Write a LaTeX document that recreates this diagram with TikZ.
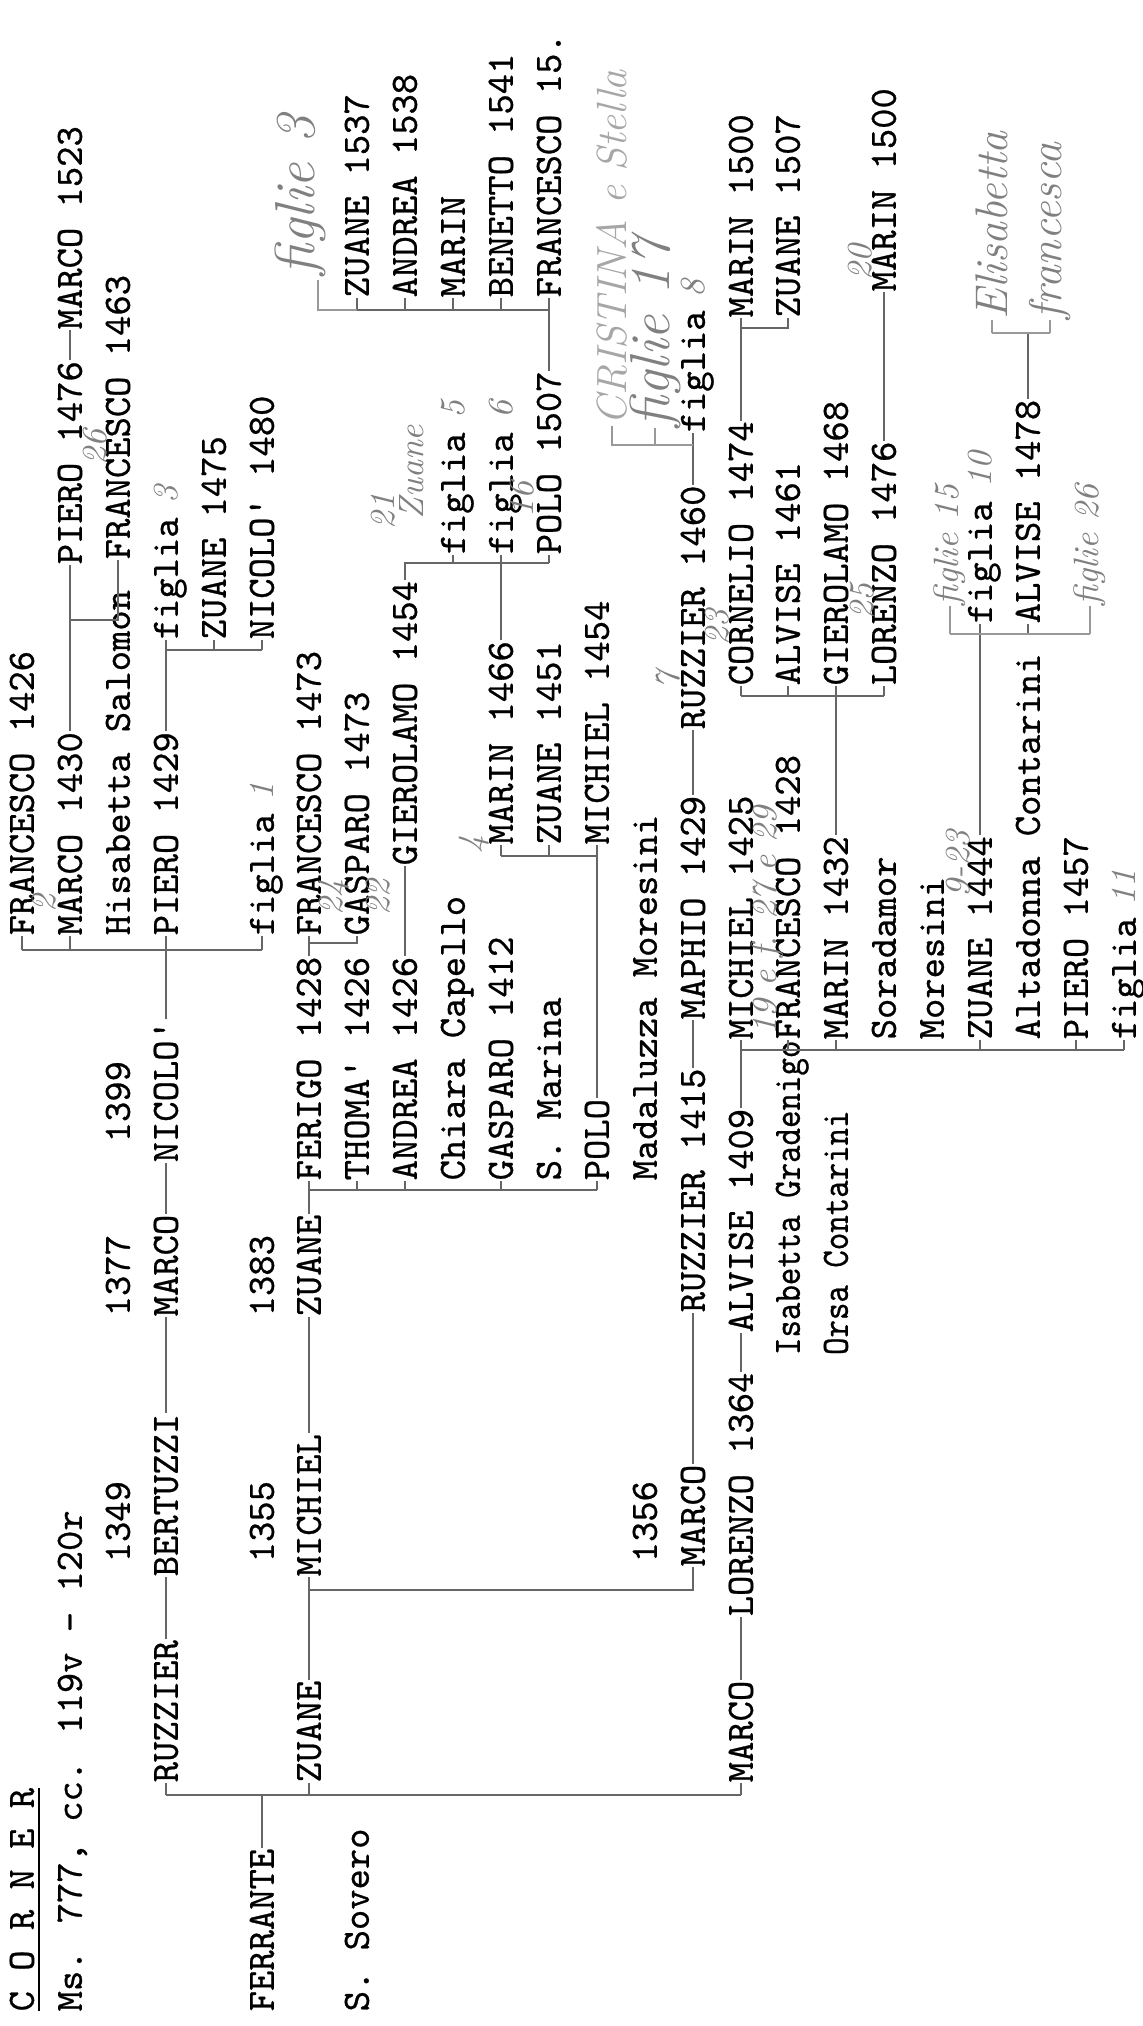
\documentclass[tikz,border=0pt]{standalone}
\usepackage{fontspec}
\newfontfamily\typer{lmmono10-regular.otf}[FakeBold=0.7]
\usetikzlibrary{positioning}
\begin{document}
\begin{tikzpicture}[rotate=90, transform shape, x=0.01cm, y=0.01cm,
  person/.style={font=\typer\fontsize{11}{13}\selectfont, inner sep=0pt, anchor=west, text height=6.7pt, text depth=0pt},
  hand/.style={font=\itshape\fontsize{10}{12}\selectfont, text=black!50, inner sep=0pt, anchor=west},
  bighand/.style={hand, font=\itshape\fontsize{16}{18}\selectfont},
  conn/.style={draw=black!60, line width=0.6pt},
  pencil/.style={draw=black!40, line width=0.6pt}]
\useasboundingbox (0,0) rectangle (2026,-1143);

% heading
\node[person] (title) at (14,-22) {\underline{C O R N E R}};
\node[person] (ms) at (14,-70) {Ms. 777, cc. 119v - 120r};

% first generations
\node[person] (ferrante) at (14,-262) {FERRANTE};
\node[person] (sovero) at (14,-357) {S. Sovero};
\node[person] (ruzzier) at (243,-166) {RUZZIER};
\node[person] (zuanea) at (243,-309) {ZUANE};
\node[person] (marcoc) at (243,-741) {MARCO};
\node[person] (d1349) at (463,-118) {1349};
\node[person] (d1377) at (709,-118) {1377};
\node[person] (d1399) at (883,-118) {1399};
\node[person] (bertuzzi) at (449,-166) {BERTUZZI};
\node[person] (marcoa) at (709,-166) {MARCO};
\node[person] (nicoloa) at (863,-166) {NICOLO'};
\node[person] (d1355) at (463,-262) {1355};
\node[person] (d1383) at (709,-262) {1383};
\node[person] (michiel) at (449,-309) {MICHIEL};
\node[person] (zuaneb) at (709,-309) {ZUANE};
\node[person] (d1356) at (463,-645) {1356};
\node[person] (marcob) at (459,-693) {MARCO};

% Nicolo' branch
\node[person] (francescoa) at (1090,-22) {FRANCESCO 1426};
\node[person] (marcod) at (1090,-70) {MARCO 1430};
\node[person] (hisabetta) at (1090,-118) {Hisabetta Salomon};
\node[person] (pieroa) at (1090,-166) {PIERO 1429};
\node[person] (figliaa) at (1090,-262) {figlia};
\node[person] (pierob) at (1461,-70) {PIERO 1476};
\node[person] (marcoe) at (1696,-70) {MARCO 1523};
\node[person] (francescob) at (1466,-118) {FRANCESCO 1463};
\node[person] (figliab) at (1386,-166) {figlia};
\node[person] (zuanec) at (1386,-214) {ZUANE 1475};
\node[person] (nicolob) at (1386,-262) {NICOLO' 1480};

% Zuane branch
\node[person] (ferigo) at (845,-309) {FERIGO 1428};
\node[person] (thoma) at (845,-357) {THOMA' 1426};
\node[person] (andrea) at (845,-405) {ANDREA 1426};
\node[person] (chiara) at (845,-453) {Chiara Capello};
\node[person] (gasparoa) at (845,-501) {GASPARO 1412};
\node[person] (marina) at (845,-549) {S. Marina};
\node[person] (polo) at (845,-597) {POLO};
\node[person] (madaluzza) at (845,-645) {Madaluzza Moresini};
\node[person] (francescoc) at (1090,-309) {FRANCESCO 1473};
\node[person] (gasparob) at (1090,-357) {GASPARO 1473};
\node[person] (gierolamoa) at (1160,-405) {GIEROLAMO 1454};
\node[person] (marinb) at (1181,-501) {MARIN 1466};
\node[person] (zuaned) at (1181,-549) {ZUANE 1451};
\node[person] (michielb) at (1181,-597) {MICHIEL 1454};
\node[person] (figliac) at (1471,-453) {figlia};
\node[person] (figliad) at (1471,-501) {figlia};
\node[person] (polob) at (1471,-549) {POLO 1507};
\node[person] (zuanee) at (1728,-357) {ZUANE 1537};
\node[person] (andreab) at (1728,-405) {ANDREA 1538};
\node[person] (marinc) at (1728,-453) {MARIN};
\node[person] (benetto) at (1728,-501) {BENETTO 1541};
\node[person] (francescod) at (1728,-549) {FRANCESCO 15.};

% Marco branches
\node[person] (ruzzierb) at (713,-693) {RUZZIER 1415};
\node[person] (maphio) at (1006,-693) {MAPHIO 1429};
\node[person] (ruzzierc) at (1296,-693) {RUZZIER 1460};
\node[person] (figliae) at (1593,-693) {figlia};
\node[person] (lorenzoa) at (409,-741) {LORENZO 1364};
\node[person] (alvisea) at (693,-741) {ALVISE 1409};
\node[person] (michielc) at (986,-741) {MICHIEL 1425};
\node[person] (cornelio) at (1340,-741) {CORNELIO 1474};
\node[person] (marind) at (1708,-741) {MARIN 1500};
\node[person] (francescoe) at (986,-788) {FRANCESCO 1428};
\node[person, xscale=0.86, left=0pt of francescoe] (isabetta) {Isabetta Gradenigo};
\node[person] (alviseb) at (1340,-788) {ALVISE 1461};
\node[person] (zuanef) at (1708,-788) {ZUANE 1507};
\node[person, xscale=0.86] (orsa) at (isabetta.west |- 0,-836) {Orsa Contarini};
\node[person] (marine) at (986,-836) {MARIN 1432};
\node[person] (gierolamob) at (1340,-836) {GIEROLAMO 1468};
\node[person] (soradamor) at (986,-884) {Soradamor};
\node[person] (lorenzob) at (1340,-884) {LORENZO 1476};
\node[person] (marinf) at (1734,-884) {MARIN 1500};
\node[person] (moresini) at (986,-932) {Moresini};
\node[person] (zuaneg) at (986,-980) {ZUANE 1444};
\node[person] (figliaf) at (1402,-980) {figlia};
\node[person] (altadonna) at (986,-1028) {Altadonna Contarini};
\node[person] (alvisec) at (1402,-1028) {ALVISE 1478};
\node[person] (pieroc) at (986,-1076) {PIERO 1457};
\node[person] (figliag) at (986,-1124) {figlia};

% brackets
\coordinate (b1) at (231,0);
\coordinate (b2) at (436,0);
\coordinate (b3) at (1076,0);
\coordinate (b4) at (836,0);
\coordinate (b5) at (976,0);
\coordinate (b6) at (1330,0);
\coordinate (b7) at (1698,0);
\coordinate (b8) at (1392,0);
\coordinate (b9) at (1083,0);
\coordinate (b10) at (1463,0);
\coordinate (b11) at (1170,0);
\coordinate (b12) at (1716,0);
\coordinate (b13) at (1406,0);
\coordinate (b14) at (1376,0);

\draw[conn] (ferrante.east) -- (b1 |- ferrante.east);
\draw[conn] (b1 |- ruzzier.west) -- (b1 |- marcoc.west);
\foreach \n in {ruzzier,zuanea,marcoc} \draw[conn] (b1 |- \n.west) -- (\n.west);
\draw[conn] (ruzzier.east) -- (bertuzzi.west);
\draw[conn] (bertuzzi.east) -- (marcoa.west);
\draw[conn] (marcoa.east) -- (nicoloa.west);
\draw[conn] (zuanea.east) -- (michiel.west);
\draw[conn] (michiel.east) -- (zuaneb.west);
\draw[conn] (b2 |- michiel.west) -- (b2 |- marcob.west) -- (marcob.west);
\draw[conn] (marcob.east) -- (ruzzierb.west);
\draw[conn] (ruzzierb.east) -- (maphio.west);
\draw[conn] (maphio.east) -- (ruzzierc.west);
\draw[conn] (ruzzierc.east) -- (figliae.west);
\draw[conn] (marcoc.east) -- (lorenzoa.west);
\draw[conn] (lorenzoa.east) -- (alvisea.west);

\draw[conn] (nicoloa.east) -- (b3 |- nicoloa.east);
\draw[conn] (b3 |- francescoa.west) -- (b3 |- figliaa.west);
\foreach \n in {francescoa,marcod,pieroa,figliaa} \draw[conn] (b3 |- \n.west) -- (\n.west);
\draw[conn] (marcod.east) -- (pierob.west);
\draw[conn] (b13 |- pierob.west) -- (b13 |- francescob.west) -- (francescob.west);
\draw[conn] (pierob.east) -- (marcoe.west);
\draw[conn] (pieroa.east) -- (figliab.west);
\draw[conn] (b14 |- figliab.west) -- (b14 |- nicolob.west);
\foreach \n in {zuanec,nicolob} \draw[conn] (b14 |- \n.west) -- (\n.west);

\draw[conn] (zuaneb.east) -- (ferigo.west);
\draw[conn] (b4 |- ferigo.west) -- (b4 |- polo.west);
\foreach \n in {thoma,andrea,gasparoa,polo} \draw[conn] (b4 |- \n.west) -- (\n.west);
\draw[conn] (ferigo.east) -- (francescoc.west);
\draw[conn] (b9 |- francescoc.west) -- (b9 |- gasparob.west) -- (gasparob.west);
\draw[conn] (andrea.east) -- (gierolamoa.west);
\draw[conn] (polo.east) -- (michielb.west);
\draw[conn] (b11 |- marinb.west) -- (b11 |- michielb.west);
\foreach \n in {marinb,zuaned} \draw[conn] (b11 |- \n.west) -- (\n.west);
\draw[conn] (marinb.east) -- (figliad.west);
\draw[conn] (gierolamoa.east) -- (b10 |- gierolamoa.east) -- (b10 |- polob.west);
\foreach \n in {figliac,polob} \draw[conn] (b10 |- \n.west) -- (\n.west);
\draw[conn] (polob.east) -- (b12 |- polob.east);
\draw[conn] (b12 |- zuanee.west) -- (b12 |- francescod.west);
\foreach \n in {zuanee,andreab,marinc,benetto,francescod} \draw[conn] (b12 |- \n.west) -- (\n.west);

\draw[conn] (alvisea.east) -- (michielc.west);
\draw[conn] (b5 |- michielc.west) -- (b5 |- figliag.west);
\foreach \n in {francescoe,marine,zuaneg,pieroc,figliag} \draw[conn] (b5 |- \n.west) -- (\n.west);
\draw[conn] (marine.east) -- (b6 |- marine.east);
\draw[conn] (b6 |- cornelio.west) -- (b6 |- lorenzob.west);
\foreach \n in {cornelio,alviseb,gierolamob,lorenzob} \draw[conn] (b6 |- \n.west) -- (\n.west);
\draw[conn] (cornelio.east) -- (marind.west);
\draw[conn] (b7 |- marind.west) -- (b7 |- zuanef.west) -- (zuanef.west);
\draw[conn] (lorenzob.east) -- (marinf.west);
\draw[conn] (zuaneg.east) -- (figliaf.west);
\draw[conn] (b8 |- figliaf.west) -- (b8 |- alvisec.west) -- (alvisec.west);

% pencil notes
\node[hand] at (1113,-44) {2};
\node[hand] at (1560,-95) {26};
\node[hand] at (1522,-166) {3};
\node[hand] at (1225,-262) {1};
\node[hand] at (1110,-334) {24};
\node[hand] at (1110,-378) {22};
\node[hand] (h21) at (1496,-383) {21};
\node[hand] (hzuane) at (1506,-412) {Zuane};
\node[hand] at (1607,-453) {5};
\node[hand] at (1607,-501) {6};
\node[hand] at (1508,-522) {16};
\node[hand] at (1172,-474) {4};
\node[hand] at (1336,-668) {7};
\node[hand] at (1380,-717) {23};
\node[hand] at (1728,-693) {8};
\node[hand] at (990,-768) {19 e f. 27 e 29};
\node[hand] at (1745,-860) {20};
\node[hand] at (1406,-862) {25};
\node[hand] at (1128,-958) {9-23};
\node[hand] at (1538,-980) {10};
\node[hand] at (1120,-1124) {11};

\coordinate (hb12) at (1746,-318);
\draw[pencil] (b12 |- zuanee.west) -- (b12 |- hb12) -- (hb12);
\node[bighand] (figlie3) at (1750,-300) {figlie 3};

\coordinate (hb14) at (1581,0);
\node[hand, text=black!35, font=\itshape\fontsize{12}{13}\selectfont] (cristina) at (1600,-612) {CRISTINA e Stella};
\node[bighand] (figlie17) at (1598,-655) {figlie 17};
\draw[pencil] (hb14 |- figliae.west) -- (hb14 |- cristina.west) -- (cristina.west);
\draw[pencil] (hb14 |- figlie17.west) -- (figlie17.west);

\node[hand] (figlie15) at (1420,-950) {figlie 15};
\node[hand] (figlie26) at (1420,-1090) {figlie 26};
\draw[pencil] (b8 |- figlie15.west) -- (b8 |- figlie26.west);
\draw[pencil] (b8 |- figlie15.west) -- (figlie15.west);
\draw[pencil] (b8 |- figlie26.west) -- (figlie26.west);

\coordinate (hb21) at (1693,0);
\node[hand, font=\itshape\fontsize{13}{14}\selectfont] (elisabetta) at (1706,-992) {Elisabetta};
\node[hand, font=\itshape\fontsize{13}{14}\selectfont] (francesca) at (1706,-1050) {francesca};
\draw[conn] (alvisec.east) -- (hb21 |- alvisec.east);
\draw[pencil] (hb21 |- elisabetta.west) -- (hb21 |- francesca.west);
\draw[pencil] (hb21 |- elisabetta.west) -- (elisabetta.west);
\draw[pencil] (hb21 |- francesca.west) -- (francesca.west);
\end{tikzpicture}
\end{document}
